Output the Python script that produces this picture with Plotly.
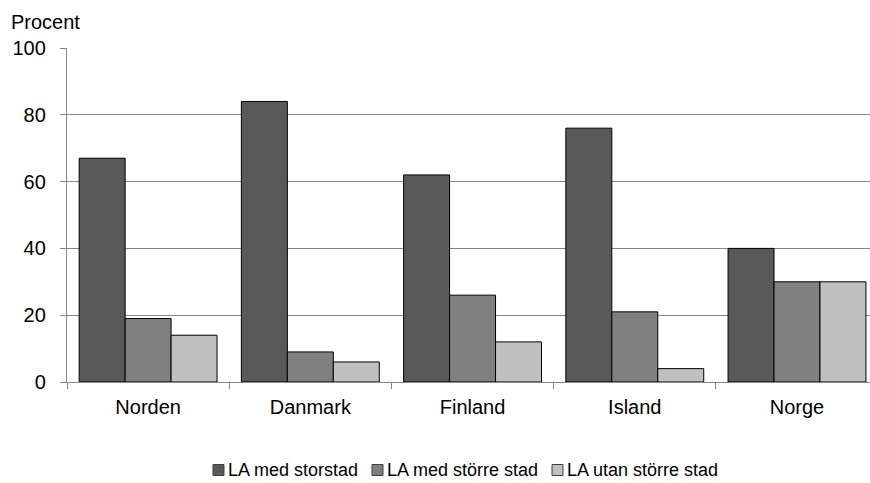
import plotly.graph_objects as go

# data
countries = ['Norden', 'Danmark', 'Finland', 'Island', 'Norge']
storstad = [67, 84, 62, 76, 40]
storre_stad = [19, 9, 26, 21, 30]
utan_storre = [14, 6, 12, 4, 30]

seriesNames = ['LA med storstad', 'LA med större stad', 'LA utan större stad']
seriesColors = ['#595959', '#808080', '#c0c0c0']

W, H = 870, 483
L, R, T, B = 67, 0, 48, 101
plotW, plotH = W - L - R, H - T - B

def px(x):
    return (x - L) / plotW

def py(y):
    return (H - B - y) / plotH

fig = go.Figure()
for name, vals, col in zip(seriesNames, [storstad, storre_stad, utan_storre], seriesColors):
    fig.add_trace(go.Bar(x=countries, y=vals, name=name, showlegend=False,
                         marker=dict(color=col, line=dict(color='#000000', width=1))))

# legend drawn by hand: small square directly followed by the label
legX = [213, 372, 552]
legY = 470
sq = 11
shapes = []
annotations = [dict(text='Procent', xref='paper', yref='paper', x=px(9), y=py(22),
                    xanchor='left', yanchor='middle', showarrow=False, font=dict(size=20))]
for x0, name, col in zip(legX, seriesNames, seriesColors):
    shapes.append(dict(type='rect', xref='paper', yref='paper',
                       x0=px(x0), x1=px(x0 + sq), y0=py(legY + sq / 2), y1=py(legY - sq / 2),
                       fillcolor=col, line=dict(color='#404040', width=1)))
    annotations.append(dict(text=name, xref='paper', yref='paper', x=px(x0 + sq + 2), y=py(legY),
                            xanchor='left', yanchor='middle', showarrow=False, font=dict(size=18)))

fig.update_layout(
    width=W, height=H,
    margin=dict(l=L, r=R, t=T, b=B),
    paper_bgcolor='white', plot_bgcolor='white',
    barmode='group', bargap=0.15, bargroupgap=0,
    font=dict(family='Liberation Sans, Arial', size=20, color='#000000'),
    shapes=shapes, annotations=annotations,
)
fig.update_xaxes(range=[-0.5, 4.45], showline=True, linecolor='#868686', linewidth=1.3,
                 ticks='outside', tickson='boundaries', ticklen=6, tickcolor='#868686',
                 showgrid=False, tickfont=dict(size=20), ticklabelstandoff=7)
fig.update_yaxes(range=[0, 100], dtick=20, showline=True, linecolor='#868686', linewidth=1.3,
                 ticks='outside', ticklen=6, tickcolor='#868686',
                 showgrid=True, gridcolor='#868686', gridwidth=1.3, zeroline=False,
                 tickfont=dict(size=20), ticklabelstandoff=10)

fig.write_html("out.html", config={'displayModeBar': False},
               post_script="document.body.style.margin='0';")
